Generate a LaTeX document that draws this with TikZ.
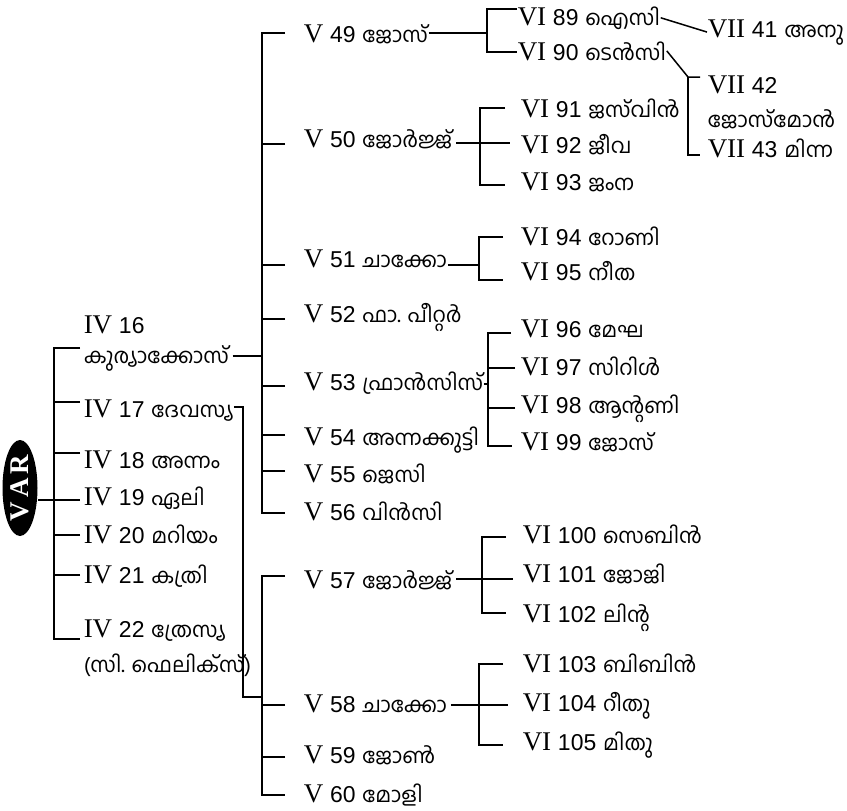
\documentclass[tikz,border=0pt]{standalone}
\usepackage{fontspec}
\setmainfont{Liberation Serif}
\setsansfont[Scale=0.85]{Liberation Sans}
\newfontfamily\mlfont[Script=Malayalam,Scale=0.78]{Hind Kochi}
\usetikzlibrary{shapes.geometric}
\newcommand{\gn}[3]{#1 {\sffamily #2} {\mlfont #3}}

\begin{document}
\begin{tikzpicture}[x=1pt,y=-1pt,line width=1.5pt,
	entry/.style={anchor=base west,inner sep=0pt,font=\fontsize{27}{32}\selectfont}]
		\useasboundingbox (0,0) rectangle (847,811);

		\node(var) [ellipse,fill=black,rotate=90,minimum width=96,minimum height=35,inner sep=0pt,
			text=white,font=\fontsize{27}{30}\selectfont\bfseries] at (20,488) {V\kern4pt A\kern4pt R};

		\node(iv16) [entry] at (83,333) {IV {\sffamily 16}};
		\node(iv16n) [entry] at (83,363) {\mlfont കുര്യാക്കോസ്};
		\node(iv17) [entry] at (83,417) {\gn{IV}{17}{ദേവസ്യ}};
		\node(iv18) [entry] at (83,468) {\gn{IV}{18}{അന്നം}};
		\node(iv19) [entry] at (83,505) {\gn{IV}{19}{ഏലി}};
		\node(iv20) [entry] at (83,543) {\gn{IV}{20}{മറിയം}};
		\node(iv21) [entry] at (83,583) {\gn{IV}{21}{കത്രി}};
		\node(iv22) [entry] at (83,637) {\gn{IV}{22}{ത്രേസ്യ}};
		\node(iv22n) [entry] at (83,672) {\mlfont (സി. ഫെലിക്‌സ്)};

		\node(v49) [entry] at (303,42) {\gn{V}{49}{ജോസ്}};
		\node(v50) [entry] at (303,147) {\gn{V}{50}{ജോർജ്ജ്}};
		\node(v51) [entry] at (303,267) {\gn{V}{51}{ചാക്കോ}};
		\node(v52) [entry] at (303,322) {\gn{V}{52}{ഫാ. പീറ്റർ}};
		\node(v53) [entry] at (303,390) {\gn{V}{53}{ഫ്രാൻസിസ്}};
		\node(v54) [entry] at (303,445) {\gn{V}{54}{അന്നക്കുട്ടി}};
		\node(v55) [entry] at (303,482) {\gn{V}{55}{ജെസി}};
		\node(v56) [entry] at (303,520) {\gn{V}{56}{വിൻസി}};
		\node(v57) [entry] at (303,588) {\gn{V}{57}{ജോർജ്ജ്}};
		\node(v58) [entry] at (303,712) {\gn{V}{58}{ചാക്കോ}};
		\node(v59) [entry] at (303,763) {\gn{V}{59}{ജോൺ}};
		\node(v60) [entry] at (303,802) {\gn{V}{60}{മോളി}};

		\node(vi89) [entry] at (517,25) {\gn{VI}{89}{ഐസി}};
		\node(vi90) [entry] at (517,60) {\gn{VI}{90}{ടെൻസി}};
		\node(vi91) [entry] at (520,117) {\gn{VI}{91}{ജസ്‌വിൻ}};
		\node(vi92) [entry] at (520,153) {\gn{VI}{92}{ജീവ}};
		\node(vi93) [entry] at (520,190) {\gn{VI}{93}{ജംന}};
		\node(vi94) [entry] at (520,245) {\gn{VI}{94}{റോണി}};
		\node(vi95) [entry] at (520,280) {\gn{VI}{95}{നീത}};
		\node(vi96) [entry] at (520,337) {\gn{VI}{96}{മേഘ}};
		\node(vi97) [entry] at (520,375) {\gn{VI}{97}{സിറിൾ}};
		\node(vi98) [entry] at (520,413) {\gn{VI}{98}{ആന്റണി}};
		\node(vi99) [entry] at (520,450) {\gn{VI}{99}{ജോസ്}};
		\node(vi100) [entry] at (522,543) {\gn{VI}{100}{സെബിൻ}};
		\node(vi101) [entry] at (522,582) {\gn{VI}{101}{ജോജി}};
		\node(vi102) [entry] at (522,622) {\gn{VI}{102}{ലിന്റ}};
		\node(vi103) [entry] at (522,672) {\gn{VI}{103}{ബിബിൻ}};
		\node(vi104) [entry] at (522,711) {\gn{VI}{104}{റീതു}};
		\node(vi105) [entry] at (522,750) {\gn{VI}{105}{മിതു}};

		\node(vii41) [entry] at (707,37) {\gn{VII}{41}{അനു}};
		\node(vii42) [entry] at (707,93) {VII {\sffamily 42}};
		\node(vii42n) [entry] at (707,127) {\mlfont ജോസ്‌മോൻ};
		\node(vii43) [entry] at (707,157) {\gn{VII}{43}{മിന്ന}};

		% bracket ends
		\coordinate (j19) at (54,500);
		\foreach \n/\y in {16/348,17/402,18/453,19/500,20/535,21/575,22/639}
			\coordinate (t\n) at (80,\y);
		\coordinate (j16) at (262,356);
		\coordinate (k17) at (243,407);
		\coordinate (j17) at (262,697);
		\foreach \n/\y in {49/33,50/144,51/265,52/319,53/386,54/435,55/471,56/513,57/576,58/705,59/757,60/795}
			\coordinate (t\n) at (285,\y);
		\coordinate (j49) at (487,33);
		\coordinate (t89) at (517,9);
		\coordinate (t90) at (517,52);
		\coordinate (j50) at (480,143);
		\coordinate (t91) at (505,108);
		\coordinate (t92) at (510,143);
		\coordinate (t93) at (505,185);
		\coordinate (j51) at (479,265);
		\coordinate (t94) at (503,237);
		\coordinate (t95) at (503,280);
		\coordinate (j53) at (488,384);
		\coordinate (t96) at (511,333);
		\coordinate (t97) at (515,368);
		\coordinate (t98) at (515,408);
		\coordinate (t99) at (512,446);
		\coordinate (j57) at (482,579);
		\coordinate (t100) at (506,537);
		\coordinate (t101) at (513,579);
		\coordinate (t102) at (506,613);
		\coordinate (j58) at (479,705);
		\coordinate (t103) at (503,664);
		\coordinate (t104) at (508,705);
		\coordinate (t105) at (503,745);
		\coordinate (j90) at (688,77);
		\coordinate (t42) at (700,77);
		\coordinate (t43) at (700,155);

		\draw (var.south |- j19) -- (t19);
		\draw (t16) -| (j19) |- (t22);
		\foreach \t in {t17,t18,t20,t21}
			\draw (\t) -- (j19 |- \t);

		\draw ([xshift=3pt]iv16n.east |- j16) -- (j16);
		\draw (t49) -| (j16) |- (t56);
		\foreach \t in {t50,t51,t52,t53,t54,t55}
			\draw (\t) -- (j16 |- \t);

		\draw (iv17.east |- k17) -- (k17) |- (j17);
		\draw (t57) -| (j17) |- (t60);
		\foreach \t in {t58,t59}
			\draw (\t) -- (j17 |- \t);

		\draw (v49.east |- j49) -- (j49);
		\draw (t89) -| (j49) |- (t90);
		\draw ([xshift=3pt]v50.east |- j50) -- (t92);
		\draw (t91) -| (j50) |- (t93);
		\draw (v51.east |- j51) -- (j51);
		\draw (t94) -| (j51) |- (t95);
		\draw (v53.east |- j53) -- (j53);
		\draw (t96) -| (j53) |- (t99);
		\foreach \t in {t97,t98}
			\draw (\t) -- (j53 |- \t);
		\draw ([xshift=3pt]v57.east |- j57) -- (t101);
		\draw (t100) -| (j57) |- (t102);
		\draw ([xshift=3pt]v58.east |- j58) -- (t104);
		\draw (t103) -| (j58) |- (t105);

		\draw (vi89.east) -- (vii41.west);
		\draw (vi90.east) -- (j90) -- (t42);
		\draw (j90) |- (t43);
\end{tikzpicture}
\end{document}
